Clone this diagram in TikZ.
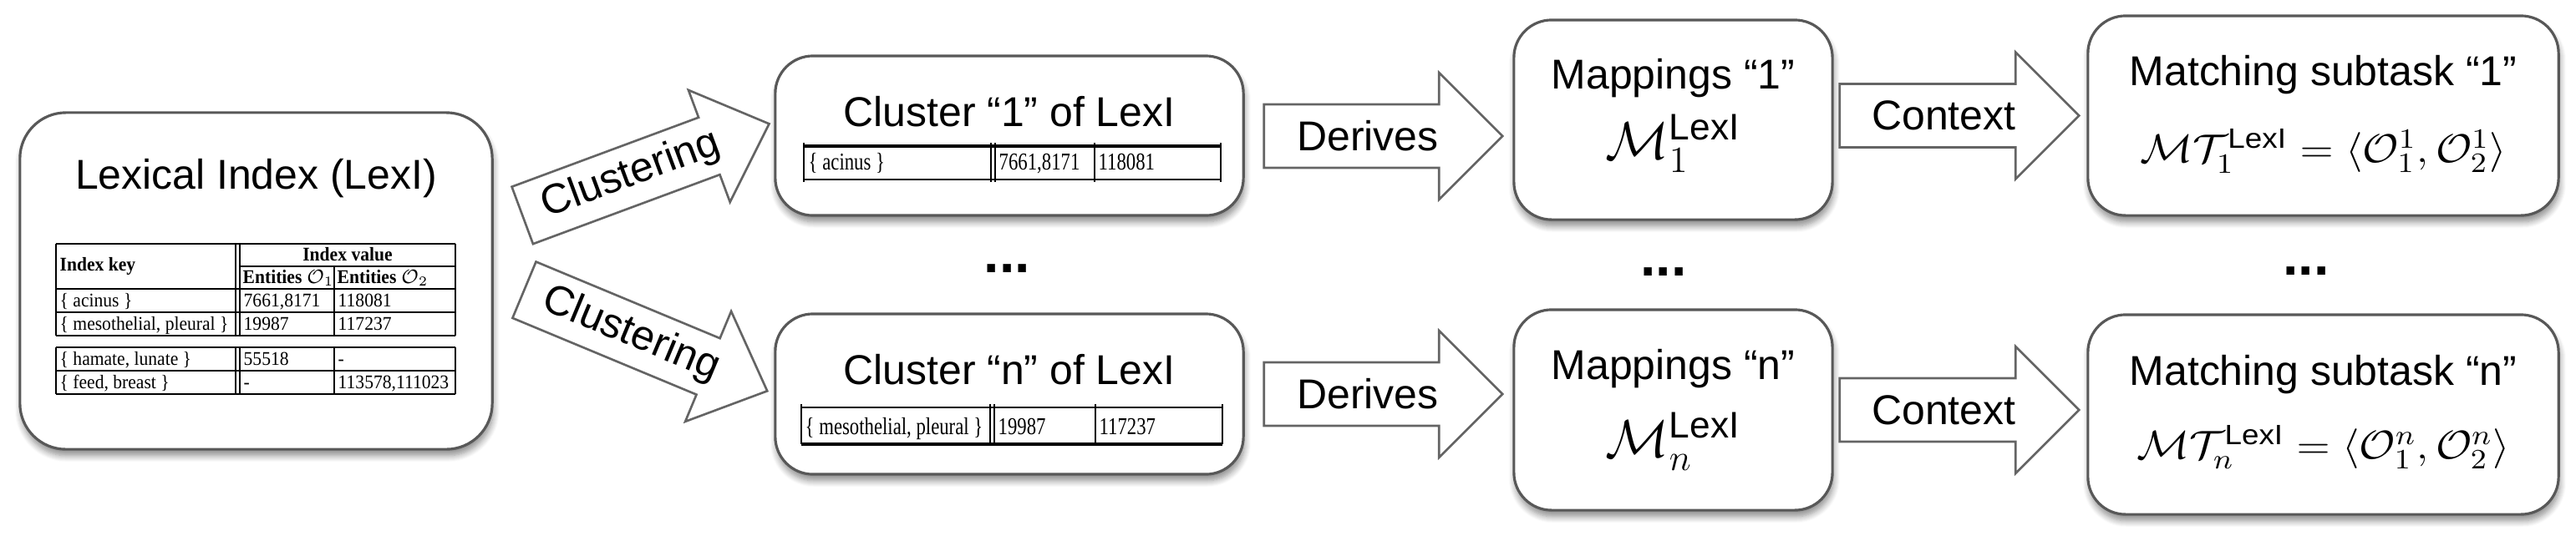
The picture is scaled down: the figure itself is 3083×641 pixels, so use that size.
\RequirePackage{fix-cm}
\documentclass[tikz,border=0pt]{standalone}
\usepackage{fontspec}
\usepackage{amsmath}
\setmainfont{Liberation Sans}
\newfontfamily\tabfont{Liberation Serif}
\usetikzlibrary{calc,shadows.blur}
\definecolor{boxgray}{RGB}{88,88,88}
\definecolor{arrgray}{RGB}{100,100,100}
\tikzset{
  box/.style={draw=boxgray, line width=0.9pt, fill=white, rounded corners=0.45cm, inner sep=0pt,
    blur shadow={shadow xshift=0.4pt, shadow yshift=-2.2pt, shadow blur steps=8, shadow opacity=45}},
  lbl/.style={font=\fontsize{14.2pt}{17pt}\selectfont, inner sep=0pt},
  mth/.style={font=\fontsize{18pt}{20pt}\selectfont, inner sep=0pt, anchor=base},
  mtt/.style={font=\fontsize{13.6pt}{16pt}\selectfont, inner sep=0pt, anchor=base},
  tab/.style={font=\tabfont\fontsize{6.6pt}{7pt}\selectfont, inner sep=0pt, anchor=base west},
  tline/.style={line width=0.5pt},
  tthick/.style={line width=0.9pt},
  barrow/.style={draw=arrgray, line width=0.75pt, fill=white, line join=miter},
  dotsty/.style={font=\bfseries\fontsize{18.8pt}{20pt}\selectfont, inner sep=0pt, anchor=base},
}
% block arrow: #1 tail centre, #2 tip, #3 half shaft width, #4 half head width, #5 head length
\newcommand\blockarrow[5]{%
  \draw[barrow] ($(#1)!#3!90:(#2)$) -- ($(#2)!#5!(#1)!#3!-90:(#1)$) -- ($(#2)!#5!(#1)!#4!-90:(#1)$)
    -- (#2) -- ($(#2)!#5!(#1)!#4!90:(#1)$) -- ($(#2)!#5!(#1)!#3!90:(#1)$) -- ($(#1)!#3!-90:(#2)$) -- cycle;}
\newcommand\tbx[1]{\scalebox{0.93}[1]{#1}}
\newcommand\sqx[1]{\scalebox{0.98}[1.25]{#1}}
\newcommand\widex[1]{\scalebox{1.1}[1]{#1}}
\begin{document}
\begin{tikzpicture}[x=0.01cm, y=-0.01cm]
\useasboundingbox (0,0) rectangle (3083,641);

% ---------- boxes ----------
\node[box, minimum width=5.65cm, minimum height=4.03cm, rounded corners=0.55cm] (lexi) at (306.5,336.5) {};
\node[box, minimum width=5.60cm, minimum height=1.91cm] (c1) at (1208,162.5) {};
\node[box, minimum width=5.60cm, minimum height=1.92cm] (cn) at (1208,472) {};
\node[box, minimum width=3.81cm, minimum height=2.39cm] (m1) at (2002.5,143.5) {};
\node[box, minimum width=3.81cm, minimum height=2.40cm] (mn) at (2002.5,491) {};
\node[box, minimum width=5.63cm, minimum height=2.39cm] (t1) at (2780.5,138.5) {};
\node[box, minimum width=5.63cm, minimum height=2.39cm] (tn) at (2780.5,496.5) {};

% ---------- titles ----------
\node[lbl, anchor=base] (lexit) at ($(lexi.north)+(0,93)$) {Lexical Index (LexI)};
\node[lbl, anchor=base] (c1t) at ($(c1.north)+(0,86)$) {Cluster “1” of LexI};
\node[lbl, anchor=base] (cnt) at ($(cn.north)+(0,86)$) {Cluster “n” of LexI};
\node[lbl, anchor=base] (m1t) at ($(m1.north)+(0,84)$) {Mappings “1”};
\node[lbl, anchor=base] (mnt) at ($(mn.north)+(0,85)$) {Mappings “n”};
\node[mth] (m1m) at ($(m1.north)+(0,168)$) {$\mathcal{M}_{1}^{\text{LexI}}$};
\node[mth] (mnm) at ($(mn.north)+(0,178)$) {$\mathcal{M}_{n}^{\text{LexI}}$};
\node[lbl, anchor=base] (t1t) at ($(t1.north)+(0,85)$) {Matching subtask “1”};
\node[lbl, anchor=base] (tnt) at ($(tn.north)+(0,86)$) {Matching subtask “n”};
\node[mtt] (t1m) at ($(t1.north)+(0,177)$) {\widex{$\mathcal{M}\mathcal{T}_{1}^{\text{LexI}}=\langle\mathcal{O}_1^1,\mathcal{O}_2^1\rangle$}};
\node[mtt] (tnm) at ($(tn.north)+(0,174)$) {\widex{$\mathcal{M}\mathcal{T}_{n}^{\text{LexI}}=\langle\mathcal{O}_1^n,\mathcal{O}_2^n\rangle$}};

% ---------- LexI table ----------
\foreach \yy in {292,346,374,402,416,444,472} \draw[tline] (67,\yy) -- (545,\yy);
\draw[tline] (287,319) -- (545,319);
\foreach \xx in {67,282,287,545} {\draw[tline] (\xx,292) -- (\xx,402); \draw[tline] (\xx,416) -- (\xx,472);}
\draw[tline] (400,319) -- (400,402);
\draw[tline] (400,416) -- (400,472);
\node[tab] (hk) at (71,324) {\tbx{\bfseries Index key}};
\node[tab, anchor=base] (hv) at (416,312) {\tbx{\bfseries Index value}};
\node[tab] (he1) at (290,339) {\tbx{\bfseries Entities $\mathcal{O}_1$}};
\node[tab] (he2) at (403,339) {\tbx{\bfseries Entities $\mathcal{O}_2$}};
\node[tab] (r1a) at (71,367) {\tbx{\{ acinus \}}};
\node[tab] (r1b) at (291,367) {\tbx{7661,8171}};
\node[tab] (r1c) at (404,367) {\tbx{118081}};
\node[tab] (r2a) at (71,395) {\tbx{\{ mesothelial, pleural \}}};
\node[tab] (r2b) at (291,395) {\tbx{19987}};
\node[tab] (r2c) at (404,395) {\tbx{117237}};
\node[tab] (r3a) at (71,437) {\tbx{\{ hamate, lunate \}}};
\node[tab] (r3b) at (291,437) {\tbx{55518}};
\node[tab] (r3c) at (404,437) {\tbx{-}};
\node[tab] (r4a) at (71,465) {\tbx{\{ feed, breast \}}};
\node[tab] (r4b) at (291,465) {\tbx{-}};
\node[tab] (r4c) at (404,465) {\tbx{113578,111023}};

% ---------- cluster 1 table ----------
\draw[tthick] (962,175) -- (1461,175);
\draw[tline] (962,215) -- (1461,215);
\foreach \xx in {962,1186,1191,1310,1461} \draw[tline] (\xx,171) -- (\xx,218);
\node[tab] (c1a) at (967,203) {\sqx{\{ acinus \}}};
\node[tab] (c1b) at (1195,203) {\sqx{7661,8171}};
\node[tab] (c1c) at (1314,203) {\sqx{118081}};

% ---------- cluster n table ----------
\draw[tline] (959,488) -- (1463,488);
\draw[tthick] (959,532) -- (1463,532);
\foreach \xx in {959,1185,1190,1311,1463} \draw[tline] (\xx,484) -- (\xx,532);
\node[tab] (cna) at (963,520) {\sqx{\{ mesothelial, pleural \}}};
\node[tab] (cnb) at (1194,520) {\sqx{19987}};
\node[tab] (cnc) at (1315,520) {\sqx{117237}};

% ---------- arrows ----------
\coordinate (cl1s) at ($(lexi.east)+(34.5,-78.6)$);
\coordinate (cl1e) at ($(c1.west)+(-5.7,-14.2)$);
\coordinate (cl2s) at ($(lexi.east)+(36.7,10.7)$);
\coordinate (cl2e) at ($(cn.west)+(-8,-3.7)$);
\coordinate (d1s) at ($(c1.east)+(23,0.5)$);
\coordinate (d1e) at ($(d1s -| m1.west)+(-12,0)$);
\coordinate (x1s) at ($(m1.east |- t1.west)+(7,0)$);
\coordinate (x1e) at ($(t1.west)+(-9,0)$);
\coordinate (d2s) at ($(cn.east)+(23,0)$);
\coordinate (d2e) at ($(d2s -| mn.west)+(-12,0)$);
\coordinate (x2s) at ($(mn.east)+(7,0)$);
\coordinate (x2e) at ($(x2s -| tn.west)+(-9,0)$);

\blockarrow{cl1s}{cl1e}{0.365cm}{0.715cm}{0.765cm}
\blockarrow{cl2s}{cl2e}{0.365cm}{0.715cm}{0.765cm}
\blockarrow{d1s}{d1e}{0.38cm}{0.76cm}{0.76cm}
\blockarrow{x1s}{x1e}{0.38cm}{0.76cm}{0.76cm}
\blockarrow{d2s}{d2e}{0.38cm}{0.76cm}{0.76cm}
\blockarrow{x2s}{x2e}{0.38cm}{0.76cm}{0.76cm}

\path (cl1s) -- (cl1e) node[lbl, sloped, pos=0.44] (lcl1) {Clustering};
\path (cl2s) -- (cl2e) node[lbl, sloped, pos=0.44] (lcl2) {Clustering};
\path (d1s) -- (d1e) node[lbl, pos=0.435] (ld1) {Derives};
\path (x1s) -- (x1e) node[lbl, pos=0.435] (lx1) {Context};
\path (d2s) -- (d2e) node[lbl, pos=0.435] (ld2) {Derives};
\path (x2s) -- (x2e) node[lbl, pos=0.435] (lx2) {Context};

% ---------- ellipses ----------
\node[dotsty] (dt1) at (1205.5,326) {...};
\node[dotsty] (dt2) at (1991,330) {...};
\node[dotsty] (dt3) at (2760,329) {...};
\end{tikzpicture}
\end{document}
